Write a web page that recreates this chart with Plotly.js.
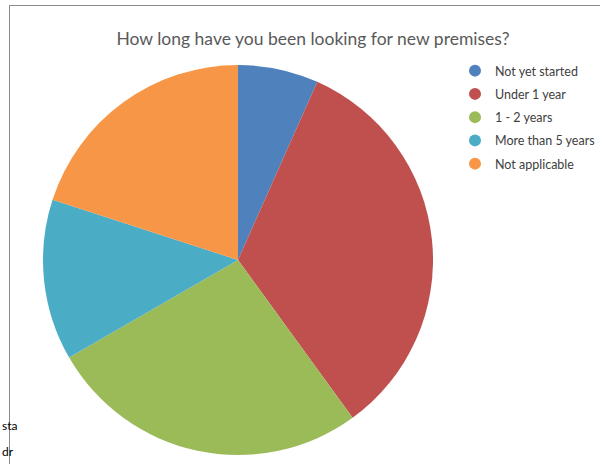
<!DOCTYPE html>
<html>
<head>
<meta charset="utf-8">
<script src="https://cdn.plot.ly/plotly-3.0.1.min.js"></script>
<style>html,body{margin:0;padding:0;background:#fff;}#chart{width:600px;height:464px;}</style>
</head>
<body>
<div id="chart"></div>
<script>
const categories = ["Not yet started", "Under 1 year", "1 - 2 years", "More than 5 years", "Not applicable"];
const values = [1, 5, 4, 2, 3];
const colors = ["#4F81BD", "#C0504D", "#9BBB59", "#4BACC6", "#F79646"];
const titleText = "How long have you been looking for new premises?";
const cellTexts = ["sta", "dr"];

const W = 600, H = 464;
const pie = {
  type: "pie",
  labels: categories,
  values: values,
  marker: {colors: colors, line: {width: 0}},
  sort: false,
  direction: "clockwise",
  rotation: 0,
  textinfo: "none",
  hoverinfo: "label+percent",
  showlegend: false,
  domain: {x: [43 / W, 433 / W], y: [(H - 455) / H, (H - 65) / H]}
};
const legendTraces = categories.map((c, i) => ({
  type: "scatter",
  mode: "markers",
  x: [null], y: [null],
  name: c,
  legendgroup: "g" + i,
  marker: {color: colors[i], size: 12, symbol: "circle"},
  showlegend: true,
  hoverinfo: "skip"
}));

const layout = {
  width: W, height: H,
  margin: {l: 0, r: 0, t: 0, b: 0},
  paper_bgcolor: "#fff",
  plot_bgcolor: "rgba(0,0,0,0)",
  font: {family: "Lato, 'Open Sans', sans-serif", color: "#404040"},
  title: {
    text: titleText,
    font: {family: "Lato, 'Open Sans', sans-serif", size: 17.5, color: "#595959"},
    x: 313 / W, xanchor: "center", xref: "paper",
    y: (H - 39) / H, yanchor: "middle", yref: "container"
  },
  xaxis: {visible: false, domain: [0.99, 1]},
  yaxis: {visible: false, domain: [0.99, 1]},
  showlegend: true,
  legend: {
    x: 455 / W, xanchor: "left",
    y: (H - 56) / H, yanchor: "top",
    font: {size: 12.5, color: "#404040"},
    itemsizing: "constant",
    tracegroupgap: 4,
    bgcolor: "rgba(0,0,0,0)",
    itemwidth: 30
  },
  shapes: [
    {type: "line", xref: "paper", yref: "paper", x0: 9 / W, x1: 1, y0: (H - 5.5) / H, y1: (H - 5.5) / H, line: {color: "#8c8c8c", width: 1}},
    {type: "line", xref: "paper", yref: "paper", x0: 9.5 / W, x1: 9.5 / W, y0: 0, y1: (H - 5.5) / H, line: {color: "#8c8c8c", width: 1}}
  ],
  annotations: [
    {text: cellTexts[0], xref: "paper", yref: "paper", x: 0, xanchor: "left", y: (H - 425) / H, yanchor: "middle", showarrow: false, font: {family: "Lato, sans-serif", size: 12, color: "#000"}},
    {text: cellTexts[1], xref: "paper", yref: "paper", x: 0, xanchor: "left", y: (H - 451) / H, yanchor: "middle", showarrow: false, font: {family: "Lato, sans-serif", size: 12, color: "#000"}}
  ]
};

Plotly.newPlot("chart", [pie].concat(legendTraces), layout, {displayModeBar: false, responsive: false});
</script>
</body>
</html>
